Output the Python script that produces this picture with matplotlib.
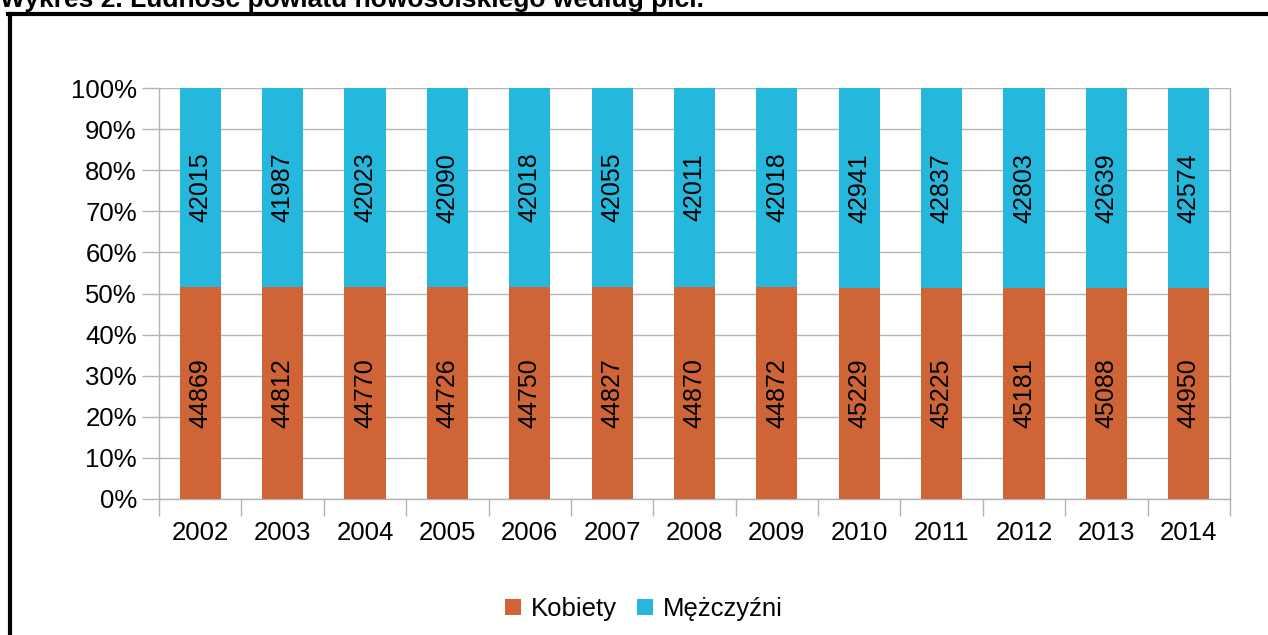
import numpy as np
import matplotlib
matplotlib.use('Agg')
import matplotlib.pyplot as plt
from matplotlib.lines import Line2D
from matplotlib.ticker import FixedLocator, PercentFormatter

plt.rcParams['font.family'] = ['Liberation Sans', 'DejaVu Sans']

years = ['2002', '2003', '2004', '2005', '2006', '2007', '2008',
         '2009', '2010', '2011', '2012', '2013', '2014']
kobiety = [44869, 44812, 44770, 44726, 44750, 44827, 44870,
           44872, 45229, 45225, 45181, 45088, 44950]
mezczyzni = [42015, 41987, 42023, 42090, 42018, 42055, 42011,
             42018, 42941, 42837, 42803, 42639, 42574]

orange = '#CF6536'
blue = '#25B7DC'
grid_color = '#B4B4B4'

k = np.array(kobiety, dtype=float)
m = np.array(mezczyzni, dtype=float)
total = k + m
k_pct = k / total * 100
m_pct = m / total * 100
x = np.arange(len(years))

fig = plt.figure(figsize=(12.68, 6.35), dpi=100)
ax = fig.add_axes([159 / 1268, 1 - 499 / 635, (1230 - 159) / 1268, (499 - 88) / 635])

ax.bar(x, k_pct, width=0.5, color=orange, label='Kobiety', zorder=3)
ax.bar(x, m_pct, width=0.5, bottom=k_pct, color=blue, label='Mężczyźni', zorder=3)

for i in range(len(years)):
    ax.text(x[i], k_pct[i] / 2, str(kobiety[i]), rotation=90, ha='center',
            va='center', fontsize=18, zorder=4)
    ax.text(x[i], k_pct[i] + m_pct[i] / 2, str(mezczyzni[i]), rotation=90,
            ha='center', va='center', fontsize=18, zorder=4)

ax.set_xlim(-0.5, len(years) - 0.5)
ax.set_ylim(0, 100)
ax.set_yticks(np.arange(0, 101, 10))
ax.yaxis.set_major_formatter(PercentFormatter(decimals=0))
ax.set_xticks(x)
ax.set_xticklabels(years)
ax.xaxis.set_minor_locator(FixedLocator(np.arange(-0.5, len(years), 1)))
ax.tick_params(axis='x', which='major', length=0, pad=16, labelsize=18.5)
ax.tick_params(axis='x', which='minor', length=12, color=grid_color, width=1)
ax.tick_params(axis='y', length=12, color=grid_color, width=1, pad=4, labelsize=18.5)
ax.grid(axis='y', color=grid_color, linewidth=1, zorder=0)
for side in ['left', 'bottom', 'right']:
    ax.spines[side].set_color(grid_color)
    ax.spines[side].set_linewidth(1)
ax.spines['top'].set_visible(False)

fig.legend(loc='center', bbox_to_anchor=(644 / 1268, 1 - 609 / 635), ncol=2,
           frameon=False, fontsize=18.5, handlelength=0.6, handleheight=0.6,
           handletextpad=0.4, columnspacing=0.8)

# border of the chart box, cut by the picture edges
fig.add_artist(Line2D([10 / 1268, 10 / 1268], [0, 1 - 14 / 635], color='black',
                      linewidth=3, transform=fig.transFigure))
fig.add_artist(Line2D([8 / 1268, 1], [1 - 14 / 635, 1 - 14 / 635], color='black',
                      linewidth=3, transform=fig.transFigure))

fig.text(0.0, 1 - 7 / 635, 'Wykres 2. Ludność powiatu nowosolskiego według płci.',
         fontsize=19, fontweight='bold', ha='left', va='baseline')

fig.savefig('out.png', dpi=100)
